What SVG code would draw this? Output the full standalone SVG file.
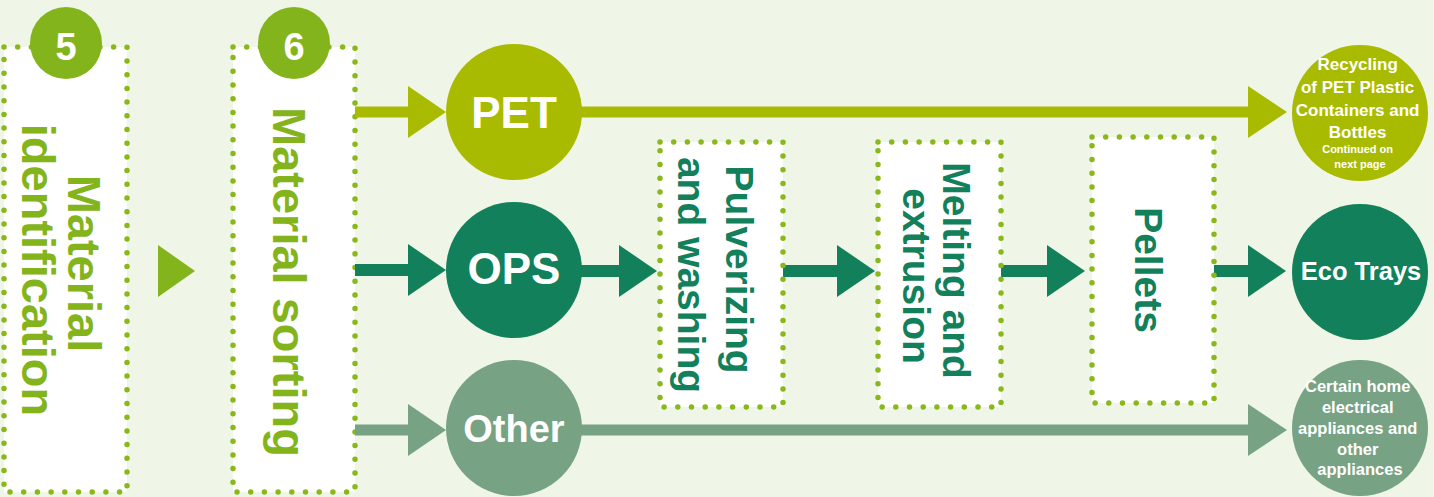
<svg xmlns="http://www.w3.org/2000/svg" width="1434" height="497" viewBox="0 0 1434 497">
  <defs>
    <style>
      .bold { font-family: "Liberation Sans", Arial, Helvetica, sans-serif; font-weight: bold; }
      .box { fill: #ffffff; stroke: #88b81a; stroke-width: 5.5; stroke-linecap: round; stroke-dasharray: 0 13.7; }
      .badge { fill: #84b41c; }
      .badgeText { fill: #ffffff; font-size: 38px; text-anchor: middle; }
      .stepText { fill: #84b41c; font-size: 47px; text-anchor: middle; }
      .procText { fill: #12805a; font-size: 39px; text-anchor: middle; }
      .circText { fill: #ffffff; text-anchor: middle; }
      .pet { fill: #a9bb00; }
      .ops { fill: #12805a; }
      .other { fill: #77a283; }
      .lpet { stroke: #a9bb00; stroke-width: 11; fill: none; }
      .lops { stroke: #12805a; stroke-width: 12; fill: none; }
      .lother { stroke: #77a283; stroke-width: 11; fill: none; }
    </style>
  </defs>

  <rect width="1434" height="497" fill="#eff5e7"/>

  <!-- step 5 -->
  <g id="step5">
    <rect class="box" x="4" y="47" width="123" height="445"/>
    <circle class="badge" cx="66" cy="43" r="36"/>
    <text class="bold badgeText" x="66" y="60">5</text>
    <text class="bold stepText" transform="translate(68,270) rotate(90)">
      <tspan x="0" y="0">Material</tspan>
      <tspan x="0" y="46">identification</tspan>
    </text>
  </g>

  <g id="step-arrow">
    <polygon points="158,245 195,271 158,297" fill="#84b41c"/>
  </g>

  <!-- step 6 -->
  <g id="step6">
    <rect class="box" x="233" y="47" width="122" height="445"/>
    <circle class="badge" cx="294" cy="43" r="36"/>
    <text class="bold badgeText" x="294" y="60">6</text>
    <text class="bold stepText" transform="translate(273,282) rotate(90)" x="0" y="0">Material sorting</text>
  </g>

  <!-- connectors -->
  <g id="connectors">
    <!-- PET row -->
    <line class="lpet" x1="355" y1="112" x2="410" y2="112"/>
    <polygon class="pet" points="408,86 446,112 408,138"/>
    <line class="lpet" x1="575" y1="112" x2="1252" y2="112"/>
    <polygon class="pet" points="1248,86 1287,112 1248,138"/>
    <!-- OPS row -->
    <line class="lops" x1="355" y1="270" x2="410" y2="270"/>
    <polygon class="ops" points="408,244 446,270 408,296"/>
    <line class="lops" x1="575" y1="271" x2="622" y2="271"/>
    <polygon class="ops" points="619,245 657,271 619,297"/>
    <line class="lops" x1="783" y1="271" x2="840" y2="271"/>
    <polygon class="ops" points="837,245 875,271 837,297"/>
    <line class="lops" x1="1001" y1="271" x2="1050" y2="271"/>
    <polygon class="ops" points="1047,245 1085,271 1047,297"/>
    <line class="lops" x1="1214" y1="271" x2="1251" y2="271"/>
    <polygon class="ops" points="1248,245 1286,271 1248,297"/>
    <!-- Other row -->
    <line class="lother" x1="355" y1="430" x2="410" y2="430"/>
    <polygon class="other" points="408,404 446,430 408,456"/>
    <line class="lother" x1="575" y1="430" x2="1252" y2="430"/>
    <polygon class="other" points="1248,404 1287,430 1248,456"/>
  </g>

  <!-- material circles -->
  <g id="pet">
    <circle class="pet" cx="514" cy="112" r="68"/>
    <text class="bold circText" x="514" y="128" font-size="44">PET</text>
  </g>
  <g id="ops">
    <circle class="ops" cx="514" cy="270" r="68"/>
    <text class="bold circText" x="514" y="284" font-size="44">OPS</text>
  </g>
  <g id="other">
    <circle class="other" cx="514" cy="428" r="68"/>
    <text class="bold circText" x="514" y="442" font-size="38">Other</text>
  </g>

  <!-- processing steps -->
  <g id="pulverizing">
    <rect class="box" x="660" y="142" width="123" height="265"/>
    <text class="bold procText" font-size="38" transform="translate(726,275) rotate(90)">
      <tspan x="0" y="0">Pulverizing</tspan>
      <tspan x="0" y="48">and washing</tspan>
    </text>
  </g>
  <g id="melting">
    <rect class="box" x="878" y="142" width="123" height="265"/>
    <text class="bold procText" transform="translate(943,276) rotate(90)">
      <tspan x="0" y="0">Melting and</tspan>
      <tspan x="0" y="40">extrusion</tspan>
    </text>
  </g>
  <g id="pellets">
    <rect class="box" x="1092" y="137" width="122" height="266"/>
    <text class="bold procText" transform="translate(1135,270) rotate(90)" x="0" y="0">Pellets</text>
  </g>

  <!-- outcomes -->
  <g id="recycling">
    <circle class="pet" cx="1360" cy="113" r="68"/>
    <text class="bold circText" font-size="17">
      <tspan x="1360" y="70">Recycling</tspan>
      <tspan x="1360" y="93">of PET Plastic</tspan>
      <tspan x="1360" y="116">Containers and</tspan>
      <tspan x="1360" y="138">Bottles</tspan>
      <tspan x="1360" y="153" font-size="11">Continued on</tspan>
      <tspan x="1360" y="168" font-size="11">next page</tspan>
    </text>
  </g>
  <g id="eco-trays">
    <circle class="ops" cx="1360" cy="272" r="68"/>
    <text class="bold circText" x="1361" y="280" font-size="25.5">Eco Trays</text>
  </g>
  <g id="appliances">
    <circle class="other" cx="1360" cy="428" r="68"/>
    <text class="bold circText" font-size="16.5">
      <tspan x="1360" y="392">Certain home</tspan>
      <tspan x="1360" y="413">electrical</tspan>
      <tspan x="1360" y="434">appliances and</tspan>
      <tspan x="1360" y="455">other</tspan>
      <tspan x="1360" y="475">appliances</tspan>
    </text>
  </g>
</svg>
